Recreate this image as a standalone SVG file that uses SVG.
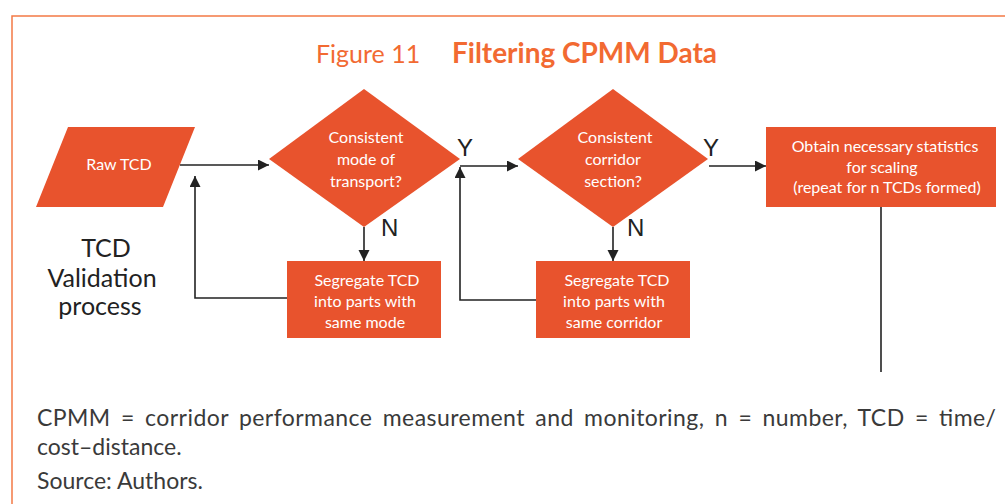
<svg xmlns="http://www.w3.org/2000/svg" width="1005" height="504" viewBox="0 0 1005 504">
  <style>
    .shape { fill: #E8532D; }
    .label { font-family: Lato, "Open Sans", "Liberation Sans", sans-serif; font-size: 16px; fill: #FFFFFF; text-anchor: middle; }
    .yn { font-family: "Liberation Sans", Lato, sans-serif; font-size: 24px; fill: #222222; }
    .side { font-family: Lato, "Open Sans", sans-serif; font-size: 25px; fill: #222222; text-anchor: middle; }
    .note { font-family: Lato, "Open Sans", sans-serif; font-size: 23px; fill: #3A3A3A; }
    .conn { fill: none; stroke: #222222; stroke-width: 1.6; }
    .title { font-family: Lato, "Open Sans", sans-serif; fill: #F26A32; }
    .title-num { font-size: 25px; }
    .title-main { font-size: 28px; font-weight: bold; }
  </style>
  <defs>
    <marker id="arrow" markerUnits="userSpaceOnUse" markerWidth="12" markerHeight="12" refX="11" refY="5.5" orient="auto">
      <path d="M0,0 L11,5.5 L0,11 z" fill="#222222"/>
    </marker>
  </defs>

  <rect width="1005" height="504" fill="#FFFFFF"/>

  <!-- frame -->
  <path d="M12,504 V16 H1005" fill="none" stroke="#F47A45" stroke-width="1.5"/>

  <!-- heading -->
  <text class="title title-num" x="316" y="63">Figure 11</text>
  <text class="title title-main" x="452" y="63" textLength="265" lengthAdjust="spacingAndGlyphs">Filtering CPMM Data</text>

  <!-- side caption -->
  <g id="side-caption">
    <text class="side" x="106" y="257">TCD</text>
    <text class="side" x="102" y="287">Validation</text>
    <text class="side" x="100" y="315">process</text>
  </g>

  <!-- connectors -->
  <g id="connectors">
    <path class="conn" d="M180,165 H269" marker-end="url(#arrow)"/>
    <path class="conn" d="M460,166 H518" marker-end="url(#arrow)"/>
    <path class="conn" d="M709,166 H766" marker-end="url(#arrow)"/>
    <path class="conn" d="M364,227 V261" marker-end="url(#arrow)"/>
    <path class="conn" d="M613,227 V261" marker-end="url(#arrow)"/>
    <path class="conn" d="M287,298 H195 V176" marker-end="url(#arrow)"/>
    <path class="conn" d="M536,300 H460 V167" marker-end="url(#arrow)"/>
    <path class="conn" d="M881,207 V372"/>
    <text class="yn" x="457" y="156">Y</text>
    <text class="yn" x="703" y="156">Y</text>
    <text class="yn" x="381" y="236">N</text>
    <text class="yn" x="627" y="236">N</text>
  </g>

  <!-- nodes -->
  <g id="raw-tcd">
    <polygon class="shape" points="68,127 195,127 163,207 36,207"/>
    <text class="label" x="119" y="170">Raw TCD</text>
  </g>

  <g id="mode-check">
    <polygon class="shape" points="364,89 460,159 364,227 269,159"/>
    <text class="label" x="366" y="143">Consistent</text>
    <text class="label" x="366" y="165">mode of</text>
    <text class="label" x="366" y="187">transport?</text>
  </g>

  <g id="corridor-check">
    <polygon class="shape" points="613,89 708,159 613,227 518,159"/>
    <text class="label" x="615" y="143">Consistent</text>
    <text class="label" x="613" y="165">corridor</text>
    <text class="label" x="613" y="187">section?</text>
  </g>

  <g id="split-mode">
    <rect class="shape" x="287" y="261" width="154" height="77"/>
    <text class="label" x="367" y="286">Segregate TCD</text>
    <text class="label" x="365" y="307">into parts with</text>
    <text class="label" x="365" y="328">same mode</text>
  </g>

  <g id="split-corridor">
    <rect class="shape" x="536" y="261" width="154" height="77"/>
    <text class="label" x="617" y="286">Segregate TCD</text>
    <text class="label" x="614" y="307">into parts with</text>
    <text class="label" x="614" y="328">same corridor</text>
  </g>

  <g id="statistics">
    <rect class="shape" x="766" y="127" width="230" height="80"/>
    <text class="label" x="885" y="152">Obtain necessary statistics</text>
    <text class="label" x="882" y="173">for scaling</text>
    <text class="label" x="887" y="193">(repeat for n TCDs formed)</text>
  </g>

  <!-- notes -->
  <g id="notes">
    <text class="note" x="37" y="426" textLength="959" lengthAdjust="spacing" word-spacing="4">CPMM = corridor performance measurement and monitoring, n = number, TCD = time/</text>
    <text class="note" x="37" y="455">cost–distance.</text>
    <text class="note" x="37" y="489">Source: Authors.</text>
  </g>
</svg>
